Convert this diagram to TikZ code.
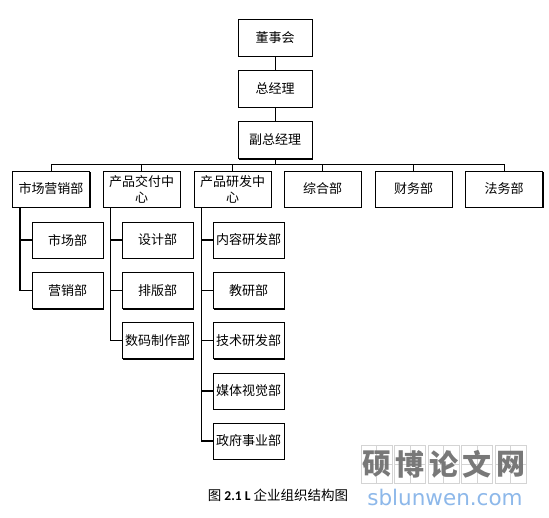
\documentclass[tikz,border=0pt]{standalone}
\usepackage{fontspec}
\setmainfont{Noto Sans CJK SC}
\newfontfamily\latinb{Carlito}
\newfontfamily\wmsans{DejaVu Sans}
\usetikzlibrary{calc,shadows}
\definecolor{wmblue}{HTML}{8DB8EA}
\definecolor{wmgrey}{HTML}{787878}
\definecolor{gridgrey}{HTML}{D4D4D4}
\begin{document}
\begin{tikzpicture}[x=1pt,y=-1pt,
  box/.style={draw=black,line width=0.9pt,fill=white,inner sep=0pt,align=center,
    font=\fontsize{13}{16}\selectfont,
    drop shadow={shadow xshift=1pt,shadow yshift=-1pt,fill=black,opacity=1}},
  topbox/.style={box,minimum width=74pt,minimum height=37pt},
  rowbox/.style={box,minimum width=77pt,minimum height=36pt},
  kidbox/.style={box,minimum width=71pt,minimum height=36pt},
  link/.style={line width=1pt},
  kidlink/.style={line width=1.6pt}]
\useasboundingbox (0,0) rectangle (549,517);
\fill[white] (0,0) rectangle (549,517);
% top chain
\node[topbox] (dsh) at (275,37.5) {董事会};
\node[topbox] (zjl) at (275,88.5) {总经理};
\node[topbox] (fzjl) at (275,140) {副总经理};
\coordinate (bus) at (275,164);
% row
\node[rowbox] (scyx) at (51,189) {市场营销部};
\node[rowbox] (cpjf) at (141.5,189) {产品交付中\\心};
\node[rowbox] (cpyf) at (232.5,189) {产品研发中\\心};
\node[rowbox] (zhb) at (322.5,189) {综合部};
\node[rowbox] (cwb) at (413.5,189) {财务部};
\node[rowbox] (fwb) at (504,189) {法务部};
% children
\node[kidbox] (scb) at (67.5,240) {市场部};
\node[kidbox] (yxb) at (67.5,290.5) {营销部};
\node[kidbox] (sjb) at (157.5,240) {设计部};
\node[kidbox] (pbb) at (157.5,290.5) {排版部};
\node[kidbox] (smzz) at (157.5,340.5) {数码制作部};
\node[kidbox] (nryf) at (248.5,240) {内容研发部};
\node[kidbox] (jyb) at (248.5,290.5) {教研部};
\node[kidbox] (jsyf) at (248.5,340.5) {技术研发部};
\node[kidbox] (mtsj) at (248.5,391) {媒体视觉部};
\node[kidbox] (zfsy) at (248.5,441) {政府事业部};
% connectors
\draw[link] (dsh) -- (zjl);
\draw[link] (zjl) -- (fzjl);
\draw[link] (fzjl) -- (bus);
\foreach \n in {scyx,cpjf,cpyf,zhb,cwb,fwb}
  \draw[link] (\n.north) |- (bus);
\foreach \p/\k in {scyx/scb,scyx/yxb,cpjf/sjb,cpjf/pbb,cpjf/smzz,cpyf/nryf,cpyf/jyb,cpyf/jsyf,cpyf/mtsj,cpyf/zfsy}
  \draw[kidlink] ($(\p.south west)+(8,0)$) |- (\k.west);
% caption
\node (cap) at (278,495) {\fontsize{13.5}{15}\selectfont 图 {\latinb\bfseries 2.1 L} 企业组织结构图};
% watermark
\foreach \i/\c in {0/硕,1/博,2/论,3/文,4/网}{
  \draw[gridgrey,line width=0.6pt] (361+33.5*\i,445) rectangle ++(31,38);
  \draw[gridgrey,line width=0.4pt] (361+33.5*\i+15.5,445) -- ++(0,38)
    (361+33.5*\i,464) -- ++(31,0);
  \node[text=wmgrey,font=\fontsize{29}{30}\selectfont\bfseries] (wm\i) at (361+33.5*\i+15.5,464) {\c};
}
\node[text=wmblue,font=\wmsans\fontsize{21.5}{24}\selectfont] (wmurl) at (445,497) {sblunwen.com};
\end{tikzpicture}
\end{document}
